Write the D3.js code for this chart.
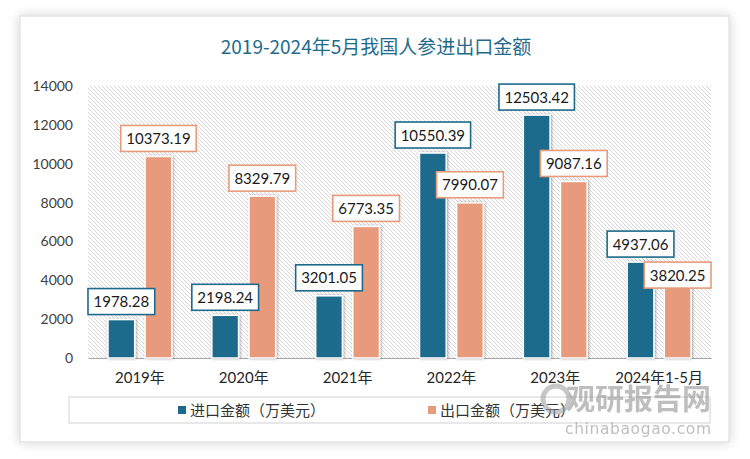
<!DOCTYPE html>
<html><head><meta charset="utf-8">
<script src="https://cdn.jsdelivr.net/npm/d3@7"></script>
<style>
html,body{margin:0;padding:0;background:#fff;}
svg{display:block;}
</style></head>
<body>
<svg id="chart" width="750" height="459"></svg>
<script>
const title = "2019-2024年5月我国人参进出口金额";
const categories = ["2019年","2020年","2021年","2022年","2023年","2024年1-5月"];
const seriesNames = ["进口金额（万美元）","出口金额（万美元）"];
const importValues = [1978.28, 2198.24, 3201.05, 10550.39, 12503.42, 4937.06];
const exportValues = [10373.19, 8329.79, 6773.35, 7990.07, 9087.16, 3820.25];
const yTicks = [0, 2000, 4000, 6000, 8000, 10000, 12000, 14000];
const colors = ["#1d6a8c", "#e89b7b"];

const svg = d3.select("#chart");
const defs = svg.append("defs");

// card shadow
const f = defs.append("filter").attr("id","cardShadow").attr("x","-5%").attr("y","-5%").attr("width","110%").attr("height","110%");
f.append("feGaussianBlur").attr("in","SourceAlpha").attr("stdDeviation",6).attr("result","b");
f.append("feOffset").attr("in","b").attr("dx",0).attr("dy",0).attr("result","o");
f.append("feComponentTransfer").attr("in","o").attr("result","s").append("feFuncA").attr("type","linear").attr("slope",0.18);
const fm = f.append("feMerge"); fm.append("feMergeNode").attr("in","s"); fm.append("feMergeNode").attr("in","SourceGraphic");

// bar shadow
const bf = defs.append("filter").attr("id","barShadow").attr("x","-30%").attr("y","-10%").attr("width","160%").attr("height","120%");
bf.append("feGaussianBlur").attr("in","SourceAlpha").attr("stdDeviation",1.6).attr("result","b");
bf.append("feOffset").attr("in","b").attr("dx",1).attr("dy",0).attr("result","o");
bf.append("feComponentTransfer").attr("in","o").attr("result","s").append("feFuncA").attr("type","linear").attr("slope",0.35);
const bm = bf.append("feMerge"); bm.append("feMergeNode").attr("in","s"); bm.append("feMergeNode").attr("in","SourceGraphic");

// hatch pattern
const pat = defs.append("pattern").attr("id","hatch").attr("patternUnits","userSpaceOnUse").attr("width",4).attr("height",4);
pat.append("rect").attr("width",4).attr("height",4).attr("fill","#fff");
pat.append("path").attr("d","M-1,-1 L5,5 M-1,3 L1,5 M3,-1 L5,1").attr("stroke","#d4d4d4").attr("stroke-width",0.9);

// card
svg.append("rect").attr("x",20).attr("y",16).attr("width",709).attr("height",426)
  .attr("fill","#fff").attr("stroke","#e4e4e4").attr("stroke-width",1.5).attr("filter","url(#cardShadow)");

// title
svg.append("text").attr("x",376).attr("y",54).attr("text-anchor","middle")
  .attr("font-family","'Noto Sans CJK SC', sans-serif").attr("font-size",19)
  .attr("fill","#1f6b8c").text(title);

const plot = {left:88, right:711, top:86, bottom:358};
const x0 = d3.scaleBand().domain(categories).range([plot.left, plot.right]).padding(0);
const x1 = d3.scaleBand().domain([0,1]).range([20, x0.bandwidth()-20]).paddingInner(0.28);
const y = d3.scaleLinear().domain([0,14000]).range([plot.bottom, plot.top]);

// plot background hatch
svg.append("rect").attr("x",plot.left).attr("y",plot.top).attr("width",plot.right-plot.left).attr("height",plot.bottom-plot.top)
  .attr("fill","url(#hatch)");

// y axis
const yAxis = d3.axisLeft(y).tickValues(yTicks).tickSize(0).tickPadding(0).tickFormat(d3.format("d"));
const yg = svg.append("g").attr("transform",`translate(73,0)`).call(yAxis);
yg.select(".domain").remove();
yg.selectAll("text").attr("font-family","Lato, 'Open Sans', sans-serif").attr("font-size",14).attr("fill","#404040");

// x axis
const xAxis = d3.axisBottom(x0).tickSize(0).tickPadding(14);
const xg = svg.append("g").attr("transform",`translate(0,${plot.bottom})`).call(xAxis);
xg.select(".domain").attr("stroke","#a6a6a6").attr("stroke-width",1.2);
xg.selectAll("text").attr("font-family","Lato, 'Noto Sans CJK SC', sans-serif").attr("font-size",15).attr("fill","#262626");

// bars
const data = categories.map((c,i)=>({cat:c, vals:[importValues[i], exportValues[i]]}));
const groups = svg.append("g").selectAll("g").data(data).join("g")
  .attr("transform", d=>`translate(${x0(d.cat)},0)`);
groups.selectAll("rect").data(d=>d.vals.map((v,k)=>({v,k}))).join("rect")
  .attr("x", d=>x1(d.k)).attr("width", x1.bandwidth())
  .attr("y", d=>y(d.v)).attr("height", d=>plot.bottom - y(d.v))
  .attr("fill", d=>colors[d.k]).attr("stroke","#fff").attr("stroke-width",1.5)
  .attr("filter","url(#barShadow)");

// labels
const labelFont = "Lato, 'Open Sans', sans-serif";
const lg = svg.append("g");
const measure = svg.append("text").attr("font-family",labelFont).attr("font-size",15).attr("visibility","hidden");
const boxH = 26;
data.forEach(d=>{
  const boxes = [];
  d.vals.forEach((v,k)=>{
    const txt = d3.format(".2f")(v);
    measure.text(txt);
    const tw = measure.node().getComputedTextLength();
    const w = tw + 11;
    const cx = x0(d.cat) + x1(k) + x1.bandwidth()/2;
    let top = y(v) - 5 - boxH;
    const b = {x:cx - w/2, y:top, w, h:boxH};
    // avoid overlap with previous label
    boxes.forEach(p=>{
      if (b.x < p.x + p.w && b.x + b.w > p.x && b.y < p.y + p.h && b.y + b.h > p.y) {
        b.y = p.y + p.h + 5;
      }
    });
    boxes.push(b);
    lg.append("rect").attr("x",b.x).attr("y",b.y).attr("width",b.w).attr("height",b.h)
      .attr("fill","#fff").attr("stroke",colors[k]).attr("stroke-width",1.6);
    lg.append("text").attr("x",cx).attr("y",b.y + b.h/2 + 5.5).attr("text-anchor","middle")
      .attr("font-family",labelFont).attr("font-size",15).attr("fill","#1a1a1a").text(txt);
  });
});
measure.remove();

// legend
svg.append("rect").attr("x",69).attr("y",397).attr("width",641).attr("height",26)
  .attr("fill","#fff").attr("stroke","#d9d9d9").attr("stroke-width",1.2);
const legX = [178, 428];
seriesNames.forEach((n,k)=>{
  svg.append("rect").attr("x",legX[k]).attr("y",406).attr("width",8).attr("height",8).attr("fill",colors[k]);
  svg.append("text").attr("x",legX[k]+12).attr("y",415.5)
    .attr("font-family","'Noto Sans CJK SC', sans-serif").attr("font-size",15).attr("fill","#333").text(n);
});

// watermark
const wm = svg.append("g").attr("opacity",0.55);
wm.append("circle").attr("cx",556).attr("cy",399).attr("r",13).attr("fill","none").attr("stroke","#9a9a9a").attr("stroke-width",5);
wm.append("text").attr("x",566).attr("y",410).attr("font-family","'Noto Sans CJK SC', sans-serif").attr("font-weight","bold")
  .attr("font-size",29).attr("fill","#8a8a8a").text("观研报告网");
wm.append("text").attr("x",565).attr("y",434).attr("font-family","'DejaVu Sans', sans-serif")
  .attr("font-size",15.5).attr("fill","#8a8a8a").attr("textLength",146).text("chinabaogao.com");
</script>
</body></html>
